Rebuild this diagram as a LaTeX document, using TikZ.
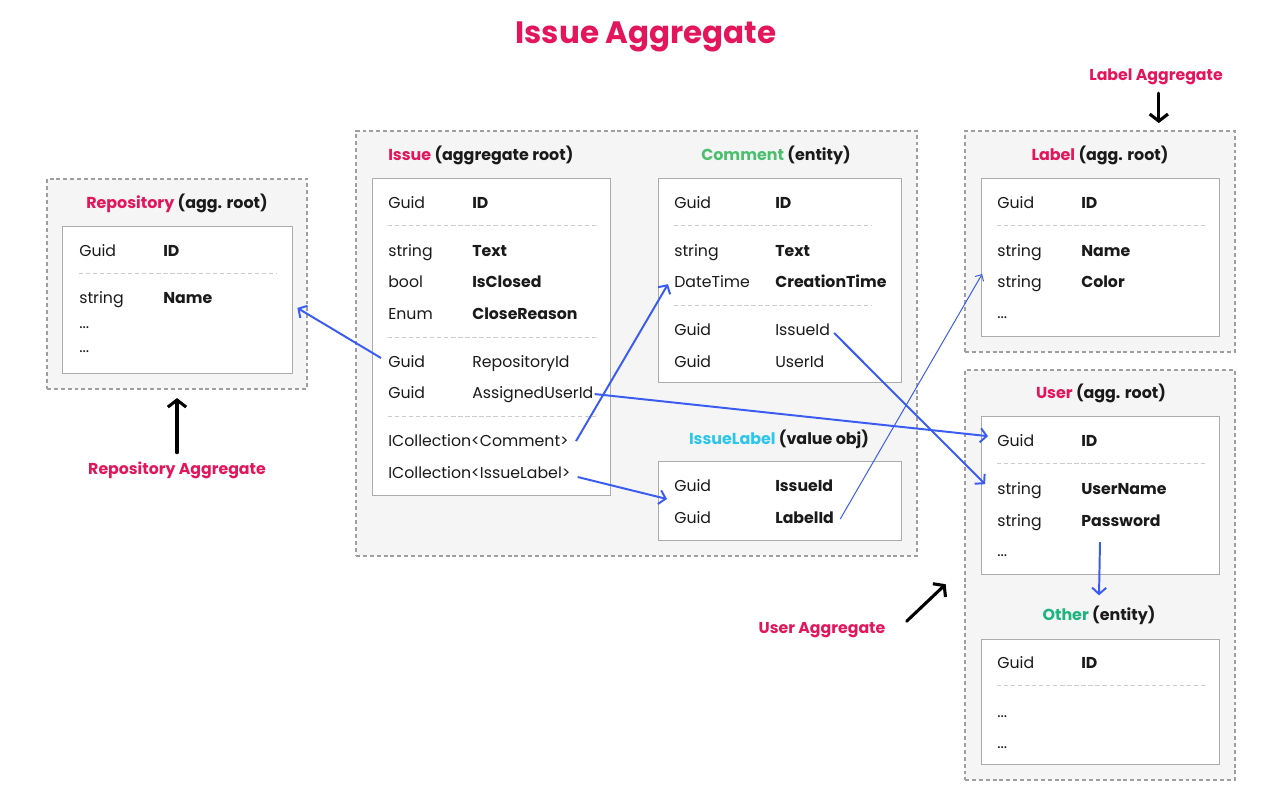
\documentclass[tikz,border=0pt]{standalone}
\usepackage{fontspec}
\setmainfont{Poppins}
\usetikzlibrary{arrows.meta,fit}

\definecolor{aggred}{HTML}{E3165B}
\definecolor{entgreen}{HTML}{4CBF6E}
\definecolor{othgreen}{HTML}{1DB47E}
\definecolor{valcyan}{HTML}{2BC6EC}
\definecolor{linkblue}{HTML}{3B5CF2}
\definecolor{inktext}{HTML}{1A1A1A}

\tikzset{
    aggbox/.style={draw=gray!75, fill=gray!8, line width=0.9pt, dash pattern=on 2.8pt off 2.1pt, inner sep=0pt},
    entbox/.style={draw=gray!65, fill=white, line width=0.6pt, inner sep=0pt},
    sepline/.style={draw=gray!40, line width=0.5pt, dash pattern=on 3pt off 2pt},
    fld/.style={anchor=base west, inner sep=0pt, text=inktext, font=\fontsize{11.2}{13}\selectfont},
    key/.style={fld, font=\fontsize{11.2}{13}\selectfont\bfseries},
    head/.style={anchor=base, inner sep=0pt, text=inktext, font=\fontsize{11.3}{13}\selectfont\bfseries},
    agglabel/.style={anchor=base, inner sep=0pt, text=aggred, font=\fontsize{11.2}{13}\selectfont\bfseries},
    link/.style={draw=linkblue, line width=1.4pt, -{Straight Barb[length=4.5pt,width=10pt]}},
    thinlink/.style={draw=linkblue, line width=0.7pt, -{Straight Barb[length=3.5pt,width=7pt]}},
    pointer/.style={draw=black, line width=2.2pt, line cap=round, -{Straight Barb[length=5pt,width=13pt]}}
}

\begin{document}
\begin{tikzpicture}[x=0.025cm,y=-0.025cm]
        \useasboundingbox (0,0) rectangle (1268,802);
        \node[font=\fontsize{22}{26}\selectfont\bfseries, text=aggred] (title) at (646,37) {Issue Aggregate};

        % aggregates
        \node[aggbox, fit={(47,179) (307,389)}] (repoAgg) {};
        \node[aggbox, fit={(356,131) (917,556)}] (issueAgg) {};
        \node[aggbox, fit={(965,131) (1235,352)}] (labelAgg) {};
        \node[aggbox, fit={(965,370) (1235,780)}] (userAgg) {};

        % entities
        \node[entbox, fit={(62,226) (292,373)}] (repoBox) {};
        \node[entbox, fit={(372,178) (610,495)}] (issueBox) {};
        \node[entbox, fit={(658,178) (901,382)}] (commentBox) {};
        \node[entbox, fit={(658,461) (901,540)}] (ilabelBox) {};
        \node[entbox, fit={(981,178) (1219,336)}] (labelBox) {};
        \node[entbox, fit={(981,416) (1219,574)}] (userBox) {};
        \node[entbox, fit={(981,639) (1219,764)}] (otherBox) {};

        \node[head] (repoHead) at (177,208) {\textcolor{aggred}{Repository} (agg. root)};
        \node[head, anchor=base west] (issueHead) at (388,160) {\textcolor{aggred}{Issue} (aggregate root)};
        \node[head] (commentHead) at (776,160) {\textcolor{entgreen}{Comment} (entity)};
        \node[head] (ilabelHead) at (779,444) {\textcolor{valcyan}{IssueLabel} (value obj)};
        \node[head] (labelHead) at (1100,160) {\textcolor{aggred}{Label} (agg. root)};
        \node[head] (userHead) at (1101,398) {\textcolor{aggred}{User} (agg. root)};
        \node[head] (otherHead) at (1099,620) {\textcolor{othgreen}{Other} (entity)};

        % Repository
        \node[fld] (rGuid) at (79,256) {Guid};
        \node[key] (rId) at (163,256) {ID};
        \draw[sepline] (79,273) -- (277,273);
        \node[fld] (rStr) at (79,303) {string};
        \node[key] (rName) at (163,303) {Name};
        \node[fld] (rMore1) at (79,328) {...};
        \node[fld] (rMore2) at (79,352) {...};

        % Issue
        \node[fld] (iGuid) at (388,208) {Guid};
        \node[key] (iId) at (472,208) {ID};
        \draw[sepline] (388,225) -- (596,225);
        \node[fld] (iStr) at (388,256) {string};
        \node[key] (iText) at (472,256) {Text};
        \node[fld] (iBool) at (388,287) {bool};
        \node[key] (iClosed) at (472,287) {IsClosed};
        \node[fld] (iEnum) at (388,319) {Enum};
        \node[key] (iReason) at (472,319) {CloseReason};
        \draw[sepline] (388,337) -- (596,337);
        \node[fld] (iRepoT) at (388,367) {Guid};
        \node[fld] (iRepo) at (472,367) {RepositoryId};
        \node[fld] (iAssignT) at (388,398) {Guid};
        \node[fld] (iAssign) at (472,398) {AssignedUserId};
        \draw[sepline] (388,416) -- (596,416);
        \node[fld] (iComment) at (388,446) {ICollection<Comment>};
        \node[fld] (iLabels) at (388,478) {ICollection<IssueLabel>};

        % Comment
        \node[fld] (cGuid) at (674,208) {Guid};
        \node[key] (cId) at (775,208) {ID};
        \draw[sepline] (674,225) -- (872,225);
        \node[fld] (cStr) at (674,256) {string};
        \node[key] (cText) at (775,256) {Text};
        \node[fld] (cDate) at (674,287) {DateTime};
        \node[key] (cTime) at (775,287) {CreationTime};
        \draw[sepline] (674,305) -- (872,305);
        \node[fld] (cIssueT) at (674,335) {Guid};
        \node[fld] (cIssue) at (775,335) {IssueId};
        \node[fld] (cUserT) at (674,367) {Guid};
        \node[fld] (cUser) at (775,367) {UserId};

        % IssueLabel
        \node[fld] (lGuid) at (674,491) {Guid};
        \node[key] (lIssue) at (775,491) {IssueId};
        \node[fld] (lGuid2) at (674,523) {Guid};
        \node[key] (lLabelId) at (775,523) {LabelId};

        % Label
        \node[fld] (lbGuid) at (997,208) {Guid};
        \node[key] (lbId) at (1081,208) {ID};
        \draw[sepline] (997,225) -- (1205,225);
        \node[fld] (lbStr1) at (997,256) {string};
        \node[key] (lbName) at (1081,256) {Name};
        \node[fld] (lbStr2) at (997,287) {string};
        \node[key] (lbColor) at (1081,287) {Color};
        \node[fld] (lbMore) at (997,318) {...};

        % User
        \node[fld] (uGuid) at (997,446) {Guid};
        \node[key] (uId) at (1081,446) {ID};
        \draw[sepline] (997,463) -- (1205,463);
        \node[fld] (uStr1) at (997,494) {string};
        \node[key] (uName) at (1081,494) {UserName};
        \node[fld] (uStr2) at (997,526) {string};
        \node[key] (uPass) at (1081,526) {Password};
        \node[fld] (uMore) at (997,556) {...};

        % Other
        \node[fld] (oGuid) at (997,668) {Guid};
        \node[key] (oId) at (1081,668) {ID};
        \draw[sepline] (997,685) -- (1205,685);
        \node[fld] (oMore1) at (997,717) {...};
        \node[fld] (oMore2) at (997,748) {...};

        % aggregate captions
        \node[agglabel] (repoAggLabel) at (177,474) {Repository Aggregate};
        \node[agglabel] (labelAggLabel) at (1156,80) {Label Aggregate};
        \node[agglabel] (userAggLabel) at (822,633) {User Aggregate};
        \draw[pointer] ([yshift=6pt]repoAggLabel.north) -- ([yshift=-6pt]repoAgg.south);
        \draw[pointer] ([xshift=2pt,yshift=-6pt]labelAggLabel.south) -- ++(0,30);
        \draw[pointer] ([shift={(15pt,6pt)}]userAggLabel.east) -- ++(39,-37);

        % references
        \draw[link] ([shift={(-5pt,6.4pt)}]iRepoT.base west) -- ([shift={(3.5pt,-6pt)}]repoBox.east);
        \draw[link] ([shift={(5pt,3.5pt)}]iComment.base east) -- ([shift={(-4.3pt,2pt)}]cDate.base west);
        \draw[link] ([shift={(0.7pt,2.8pt)}]iAssign.base east) -- ([shift={(-6.4pt,7pt)}]uGuid.base west);
        \draw[link] ([shift={(5pt,0.7pt)}]iLabels.base east) -- ([shift={(-5pt,-5.7pt)}]lGuid.base west);
        \draw[link] ([shift={(2.8pt,1.4pt)}]cIssue.base east) -- ([shift={(-8.5pt,7pt)}]uStr1.base west);
        \draw[thinlink] ([shift={(4.3pt,2.8pt)}]lLabelId.base east) -- ([shift={(-10.6pt,9.2pt)}]lbStr2.base west);
        \draw[link] ([yshift=23pt]userBox.south) -- ([yshift=7pt]otherHead.north);
\end{tikzpicture}
\end{document}
